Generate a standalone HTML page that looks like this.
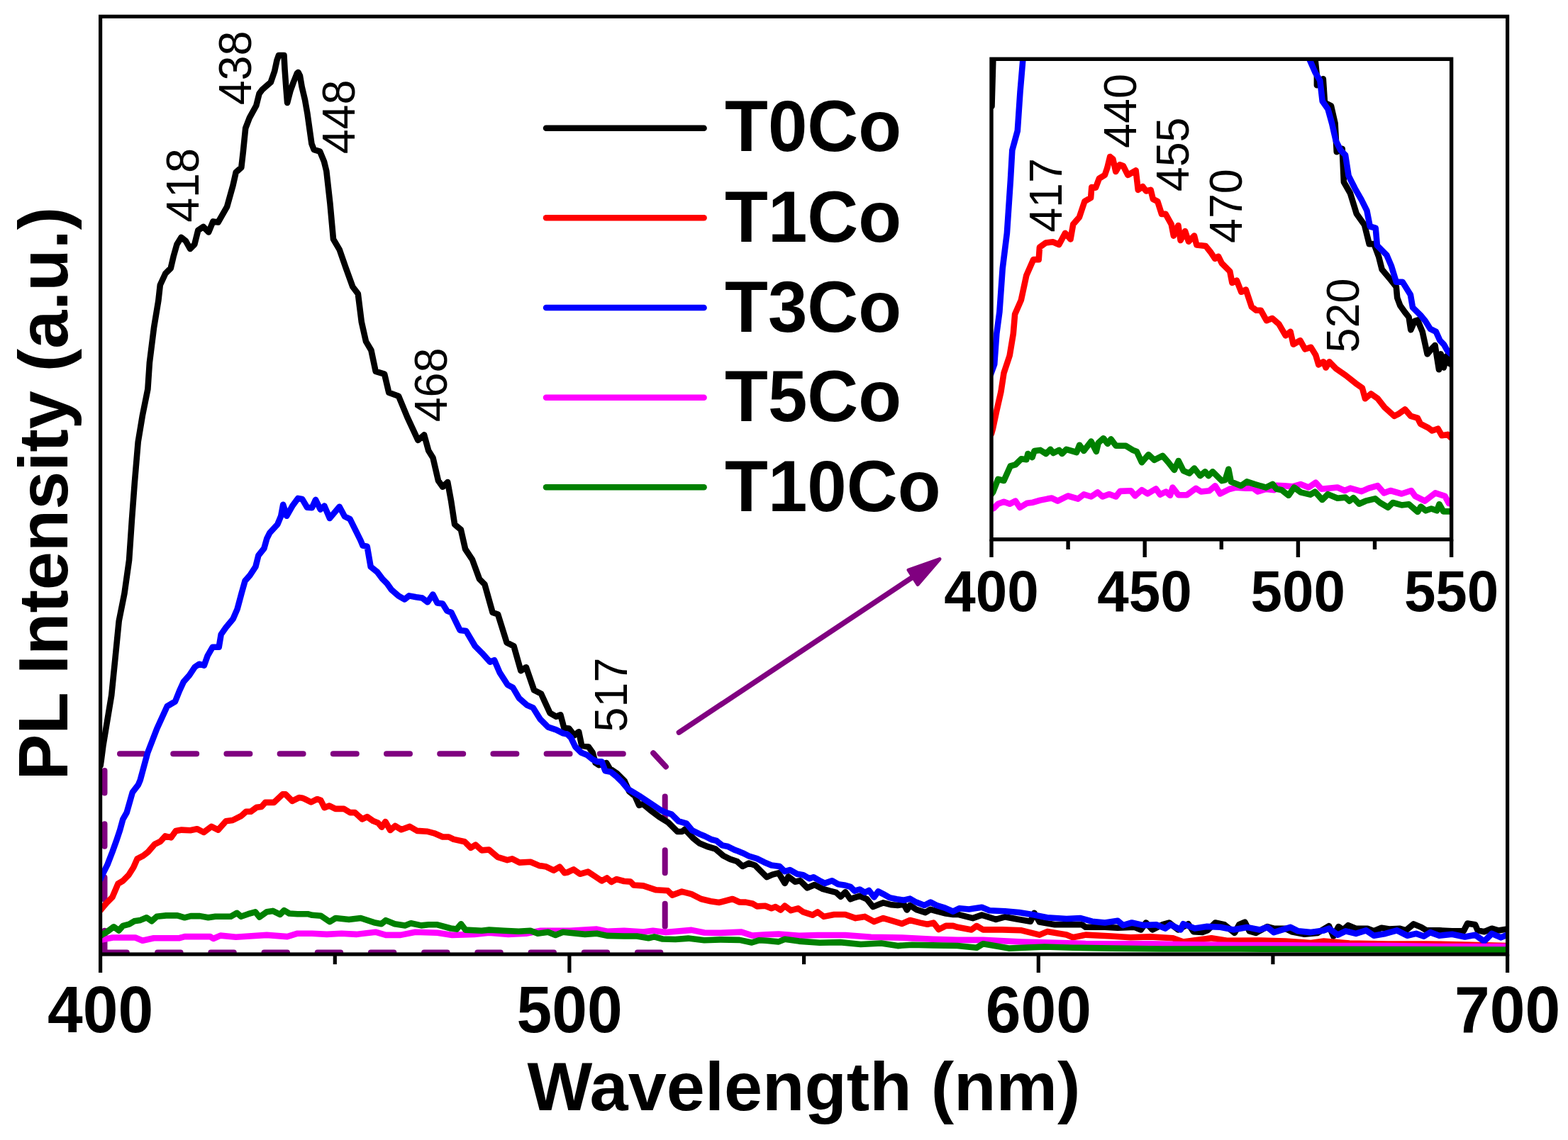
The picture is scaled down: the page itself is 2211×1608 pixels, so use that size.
<!DOCTYPE html>
<html><head><meta charset="utf-8"><title>PL spectra</title>
<style>
html,body{margin:0;padding:0;background:#fff;}
body{width:2211px;height:1608px;overflow:hidden;}
svg{display:block;}
.b{font-family:"Liberation Sans",Arial,sans-serif;font-weight:bold;fill:#000;}
.r{font-family:"Liberation Sans",Arial,sans-serif;font-weight:normal;fill:#000;}
</style></head><body>
<svg width="2211" height="1608" viewBox="0 0 2211 1608">
<rect width="100%" height="100%" fill="#fff"/>
<g stroke="#800080" stroke-width="8" stroke-linecap="round" stroke-linejoin="round" fill="none">
<line x1="169" y1="1063.2" x2="916" y2="1063.2" stroke-dasharray="33 42.2"/>
<line x1="921.2" y1="1062.3" x2="938.9" y2="1081.4"/>
<line x1="937.7" y1="1123.6" x2="937.7" y2="1310" stroke-dasharray="32 43.6"/>
<polyline points="147.5,1312.8 147.5,1343.5 178.8,1343.5"/>
<line x1="222.1" y1="1343.5" x2="935" y2="1343.5" stroke-dasharray="32.5 42.7"/>
<line x1="147.5" y1="1086.9" x2="147.5" y2="1290" stroke-dasharray="31.5 43.8"/>
</g>
<line x1="957.4" y1="1033.1" x2="1290" y2="812" stroke="#800080" stroke-width="7.5" stroke-linecap="round"/>
<polygon points="1325,788.5 1281,804 1294,824.5" fill="#800080" stroke="#800080" stroke-width="5" stroke-linejoin="round"/>
<clipPath id="pc"><rect x="141.6" y="23.3" width="1984.0" height="1322.7"/></clipPath>
<g fill="none" stroke-width="8.6" stroke-linejoin="round" stroke-linecap="round" clip-path="url(#pc)">
<polyline stroke="#000000" points="141.6,1080.0 142.8,1072.0 145.5,1051.2 150.7,1019.9 157.2,980.7 162.5,928.4 167.7,876.0 175.5,836.9 182.1,789.8 186.0,732.3 189.9,680.0 194.7,623.4 200.9,586.0 208.4,548.8 210.9,511.4 217.1,461.7 223.3,424.4 225.8,402.0 233.3,385.8 240.7,378.4 244.5,362.2 249.4,344.8 255.6,334.8 261.9,339.8 268.1,351.0 274.3,344.8 279.3,324.9 286.7,319.9 294.2,327.4 300.4,312.4 307.6,313.5 320.1,291.7 328.5,261.5 332.7,243.0 340.3,236.3 342.8,214.5 346.2,180.9 352.0,165.8 361.3,149.0 365.5,132.2 370.0,126.2 376.0,121.0 381.8,116.0 387.2,100.4 390.5,84.9 393.0,78.0 400.5,78.0 401.5,97.3 403.5,125.0 405.1,145.0 409.5,128.0 413.8,116.0 418.8,103.5 420.5,102.0 423.0,107.0 425.6,122.2 430.0,140.8 433.4,160.0 439.4,202.7 442.7,211.1 451.1,213.6 457.0,227.9 460.3,241.3 465.4,286.7 470.0,337.3 478.7,352.2 487.4,377.1 497.3,404.5 504.8,414.4 509.8,454.2 516.0,481.6 523.4,494.0 529.7,523.9 542.1,527.6 548.3,553.7 562.0,558.7 574.4,588.6 589.4,620.9 598.1,613.4 604.3,635.8 610.5,645.8 618.0,678.1 624.2,686.8 631.2,680.0 636.2,707.3 641.1,739.7 649.9,747.1 656.1,774.5 666.0,789.4 676.0,816.8 683.4,824.2 694.6,864.0 702.1,866.5 714.5,906.3 724.5,911.3 734.4,946.1 741.9,941.2 753.1,973.5 763.0,978.5 775.5,1005.8 784.2,1010.8 790.4,1008.3 795.4,1027.0 802.4,1027.5 809.7,1037.2 816.2,1032.3 820.2,1051.7 829.9,1053.4 835.6,1061.4 839.6,1076.0 844.5,1079.2 855.0,1076.0 859.8,1084.1 869.5,1090.5 880.8,1101.9 887.3,1116.4 895.4,1122.9 901.1,1135.8 906.7,1134.2 916.4,1142.3 929.3,1152.0 942.3,1160.1 948.7,1166.5 955.2,1173.0 961.7,1173.0 965.7,1169.8 977.9,1182.7 985.9,1189.2 997.3,1194.0 1008.6,1197.3 1019.9,1207.0 1029.6,1211.8 1039.3,1215.0 1047.2,1222.0 1055.9,1217.6 1064.6,1220.5 1073.3,1229.2 1081.3,1237.2 1089.2,1233.6 1097.9,1231.4 1106.6,1245.9 1111.6,1236.4 1121.0,1243.7 1128.3,1242.2 1138.4,1252.4 1148.6,1248.0 1160.1,1253.8 1170.3,1256.7 1179.0,1258.9 1185.5,1264.7 1192.0,1258.2 1199.2,1268.3 1205.0,1266.1 1212.2,1263.9 1222.4,1268.3 1231.0,1279.1 1239.7,1275.5 1245.5,1273.4 1257.1,1276.3 1265.8,1277.0 1274.5,1275.5 1278.8,1283.5 1283.2,1277.0 1291.8,1282.8 1304.9,1287.1 1312.1,1282.8 1322.2,1285.7 1333.8,1288.6 1344.0,1290.0 1350.0,1289.7 1371.7,1295.1 1384.4,1290.6 1404.3,1296.9 1416.9,1293.3 1431.4,1296.0 1453.1,1299.7 1458.5,1287.9 1465.8,1300.6 1487.5,1304.2 1503.8,1304.2 1525.5,1304.2 1530.9,1307.8 1558.0,1307.8 1576.1,1308.7 1599.7,1307.8 1608.7,1311.4 1615.9,1301.5 1625.0,1311.4 1639.5,1304.2 1648.5,1301.5 1661.2,1311.4 1675.6,1303.3 1682.9,1314.1 1695.5,1315.0 1702.8,1312.3 1713.6,1301.5 1726.3,1304.2 1740.8,1315.9 1747.2,1304.3 1755.4,1300.7 1761.7,1313.3 1770.8,1316.0 1787.0,1307.0 1796.1,1309.7 1812.4,1309.7 1821.4,1314.2 1839.5,1317.8 1857.6,1316.0 1873.9,1306.1 1880.2,1320.6 1887.4,1307.0 1893.8,1311.5 1901.0,1305.2 1911.9,1309.7 1928.2,1309.7 1937.2,1313.3 1948.0,1308.8 1958.9,1310.6 1973.4,1309.7 1982.4,1312.4 1993.3,1303.4 2004.1,1307.9 2011.4,1312.4 2029.5,1312.4 2047.6,1313.3 2063.8,1313.3 2069.3,1302.5 2080.1,1304.3 2083.7,1312.4 2092.8,1314.2 2103.6,1309.7 2112.7,1312.4 2125.0,1310.6"/>
<polyline stroke="#ff0000" points="141.6,1284.0 143.4,1281.8 150.2,1273.7 158.4,1265.5 166.5,1246.5 173.3,1242.5 181.4,1234.3 188.2,1223.5 193.6,1211.3 201.8,1207.2 208.6,1201.8 218.1,1190.9 226.2,1186.8 233.0,1179.4 241.1,1181.4 247.9,1171.9 256.0,1170.6 268.3,1171.2 277.8,1169.2 287.3,1174.0 298.1,1165.8 307.6,1170.6 318.5,1158.3 328.0,1157.0 340.2,1150.9 347.0,1144.8 353.7,1144.8 361.9,1138.7 368.7,1138.0 374.1,1131.9 386.3,1131.9 398.5,1120.4 402.6,1120.4 412.1,1129.9 421.6,1125.1 427.0,1125.8 430.0,1127.2 438.6,1131.5 447.2,1127.2 452.3,1128.9 457.5,1139.2 464.4,1136.6 473.0,1140.9 485.0,1140.9 493.6,1146.1 500.5,1146.1 510.8,1155.5 517.7,1152.1 526.3,1158.1 533.1,1160.7 538.3,1166.7 543.4,1159.0 550.3,1171.0 557.2,1165.0 565.8,1170.2 577.8,1165.9 588.1,1171.9 601.9,1172.7 612.2,1175.3 624.2,1180.5 632.8,1180.5 639.7,1183.9 655.2,1187.3 663.8,1195.9 670.6,1191.6 679.2,1199.4 689.5,1198.5 701.6,1208.8 715.3,1213.1 722.2,1211.4 732.5,1216.6 748.0,1215.7 760.0,1220.9 770.3,1222.6 780.6,1227.7 789.2,1222.6 796.1,1231.2 800.0,1230.5 808.9,1226.4 817.8,1232.8 829.1,1229.6 838.8,1236.0 848.5,1242.5 855.8,1238.5 862.2,1244.1 869.5,1240.1 880.0,1243.0 889.0,1243.6 893.6,1248.5 907.1,1249.4 925.2,1255.3 941.5,1256.2 947.8,1262.6 961.4,1257.6 975.0,1261.2 988.5,1268.0 1002.1,1271.2 1013.9,1273.0 1032.9,1268.0 1042.8,1272.5 1051.6,1272.6 1061.7,1274.8 1067.5,1278.4 1079.1,1277.7 1087.8,1281.3 1093.6,1279.1 1100.8,1283.5 1106.6,1277.7 1115.3,1284.2 1125.4,1281.3 1132.6,1286.4 1145.7,1290.7 1152.9,1286.4 1161.6,1292.9 1176.1,1290.0 1192.0,1290.0 1206.4,1295.1 1219.5,1292.9 1232.5,1300.1 1245.5,1295.1 1260.0,1299.4 1271.6,1303.0 1283.2,1298.0 1297.6,1301.6 1307.8,1303.7 1316.4,1301.6 1323.7,1311.0 1333.8,1305.9 1344.0,1305.9 1350.0,1307.8 1369.9,1311.4 1377.1,1306.0 1386.2,1311.4 1413.3,1311.4 1440.5,1312.3 1465.8,1318.6 1476.6,1314.1 1503.8,1318.6 1512.8,1322.3 1530.9,1318.6 1567.1,1320.5 1594.2,1322.3 1621.4,1321.4 1653.9,1323.2 1668.4,1328.6 1708.2,1323.2 1729.9,1326.8 1776.2,1326.5 1812.4,1327.5 1848.5,1330.0 1866.6,1327.5 1902.8,1330.5 1957.1,1331.5 2011.4,1331.5 2065.6,1332.5 2125.0,1334.0"/>
<polyline stroke="#0000ff" points="141.6,1240.0 143.4,1235.7 151.6,1219.4 158.4,1201.8 163.8,1186.8 169.2,1170.6 173.3,1155.6 178.7,1146.1 184.1,1127.1 186.8,1117.6 195.0,1106.8 197.7,1100.4 208.2,1061.7 221.3,1027.7 235.7,996.3 247.0,989.5 253.0,974.5 258.9,961.6 266.9,952.6 274.9,940.7 280.8,936.7 287.8,938.7 292.8,924.8 299.7,912.8 308.7,912.8 311.7,894.9 318.6,885.0 328.6,873.0 334.6,859.1 340.5,837.2 345.5,819.3 352.5,811.3 360.4,799.4 364.4,783.5 372.4,773.5 376.3,759.6 380.3,751.6 391.3,739.7 396.2,727.8 399.2,711.8 404.2,727.8 412.2,713.8 420.1,702.9 426.1,703.9 433.1,715.8 440.0,716.1 445.0,704.9 451.8,718.6 457.4,713.6 464.9,731.0 478.6,714.8 486.0,728.5 493.5,732.2 502.2,749.7 508.4,762.1 511.5,769.6 517.7,770.8 522.7,799.4 532.0,806.9 539.5,816.8 545.7,823.0 551.9,831.7 561.9,840.4 570.6,845.4 576.8,840.4 586.8,842.3 595.5,843.6 602.9,849.2 610.4,838.6 616.6,850.4 624.1,851.6 630.3,861.6 636.5,864.1 648.6,888.9 657.3,890.1 669.8,911.3 679.7,921.2 690.9,933.7 697.1,931.2 704.6,948.6 715.8,966.0 723.2,969.8 731.9,984.7 743.1,994.6 751.8,998.4 761.8,1014.5 773.0,1025.7 784.2,1029.4 794.1,1034.4 800.0,1035.6 804.9,1040.4 811.3,1053.4 819.4,1061.4 827.5,1064.7 835.6,1071.1 842.0,1074.4 848.5,1074.4 853.4,1087.3 861.4,1088.9 869.5,1095.4 877.6,1103.5 885.7,1113.2 893.8,1118.0 901.9,1122.9 911.6,1129.3 921.3,1135.8 931.0,1142.3 937.4,1145.5 947.1,1148.7 956.8,1158.4 968.1,1161.7 976.2,1171.4 985.9,1176.2 994.0,1179.5 1003.7,1184.3 1010.2,1185.9 1018.3,1192.4 1026.4,1194.0 1036.0,1198.9 1040.0,1200.3 1047.2,1203.2 1055.9,1207.5 1067.5,1211.1 1077.6,1216.2 1087.8,1220.5 1099.3,1222.0 1106.6,1229.2 1113.8,1227.0 1124.0,1232.8 1132.6,1234.3 1141.3,1239.3 1147.1,1237.2 1155.8,1242.2 1163.0,1245.9 1173.2,1242.2 1181.8,1247.3 1192.0,1248.8 1199.2,1250.9 1205.0,1256.7 1212.2,1254.5 1219.5,1258.9 1225.3,1256.0 1232.5,1265.4 1238.3,1257.4 1245.5,1261.1 1254.2,1266.1 1264.3,1268.3 1274.5,1269.7 1283.2,1267.6 1291.8,1272.6 1303.4,1277.0 1312.1,1272.6 1320.8,1277.0 1332.4,1280.6 1344.0,1285.7 1352.6,1281.3 1366.3,1282.5 1384.4,1279.8 1395.2,1284.3 1416.9,1285.2 1436.8,1287.0 1458.5,1290.6 1476.6,1294.2 1503.8,1296.0 1523.7,1295.1 1540.0,1299.7 1558.0,1301.5 1576.1,1298.7 1583.4,1305.1 1596.0,1301.5 1612.3,1305.1 1630.4,1304.2 1643.1,1309.6 1650.3,1304.2 1664.8,1311.4 1668.4,1303.3 1684.7,1309.6 1701.0,1306.9 1720.9,1307.8 1738.9,1311.4 1758.1,1307.9 1776.2,1311.5 1787.0,1307.9 1796.1,1315.1 1819.6,1307.9 1830.5,1313.3 1848.5,1315.1 1866.6,1312.4 1873.9,1309.7 1886.5,1318.7 1897.4,1313.3 1911.9,1316.9 1926.3,1312.4 1937.2,1319.7 1953.5,1316.9 1969.8,1312.4 1984.2,1319.7 1996.9,1316.9 2007.8,1320.6 2016.8,1315.1 2029.5,1319.7 2047.6,1317.8 2065.6,1321.5 2080.1,1318.7 2092.8,1327.8 2103.6,1316.9 2116.3,1322.4 2125.0,1318.7"/>
<polyline stroke="#ff00ff" points="141.6,1326.0 144.5,1325.4 158.9,1322.5 190.8,1322.5 200.9,1326.8 216.8,1323.2 253.0,1323.2 260.3,1321.1 296.4,1321.1 300.8,1324.0 310.9,1319.6 332.6,1321.8 376.1,1318.9 405.0,1321.1 419.5,1316.7 440.0,1316.8 460.8,1317.9 481.6,1316.8 502.4,1317.9 529.5,1314.7 544.0,1318.9 564.8,1318.9 585.6,1314.7 616.8,1315.8 637.6,1318.9 668.9,1317.9 689.7,1315.8 716.7,1317.9 741.7,1316.8 762.5,1312.7 804.1,1312.7 841.5,1310.6 856.1,1313.7 880.0,1312.8 907.1,1314.6 920.7,1312.8 938.8,1315.0 975.0,1311.9 993.1,1315.5 1015.7,1315.9 1045.5,1314.6 1060.9,1319.6 1080.0,1318.2 1097.9,1317.5 1126.8,1319.7 1152.9,1319.0 1192.0,1319.0 1228.2,1321.8 1271.6,1322.6 1315.0,1324.7 1350.0,1325.9 1386.2,1325.9 1440.5,1328.5 1530.9,1331.0 1621.4,1331.3 1675.6,1332.2 1750.0,1333.1 1812.4,1333.2 1884.7,1334.1 1957.1,1334.1 2029.5,1335.0 2125.0,1335.0"/>
<polyline stroke="#008000" points="141.6,1320.0 144.5,1318.2 151.7,1313.8 160.4,1307.3 167.6,1312.4 173.4,1305.9 182.1,1303.7 189.3,1299.3 198.0,1297.9 206.7,1294.3 213.9,1299.3 221.2,1292.8 234.2,1291.4 250.1,1291.4 260.3,1294.3 268.9,1292.1 282.0,1292.1 293.6,1294.3 303.7,1292.8 325.4,1292.8 334.1,1287.8 339.9,1292.8 350.0,1289.2 360.1,1286.3 365.9,1293.6 376.1,1286.3 384.7,1284.9 394.9,1289.9 400.7,1284.1 407.9,1288.5 419.5,1289.2 434.0,1289.2 440.0,1290.8 452.5,1291.8 465.0,1300.2 473.3,1295.0 492.0,1297.0 508.7,1295.0 527.4,1301.2 537.8,1303.3 544.0,1298.1 556.5,1303.3 571.1,1305.4 579.4,1302.2 594.0,1305.4 604.4,1304.3 616.8,1304.3 635.6,1309.5 643.9,1310.6 650.1,1303.3 656.4,1311.6 679.3,1312.7 689.7,1311.6 710.5,1312.7 731.3,1313.7 747.9,1312.7 758.3,1316.8 772.9,1314.7 783.3,1318.9 793.7,1314.7 824.9,1317.9 841.5,1316.8 856.1,1319.9 880.0,1320.5 898.1,1320.5 914.4,1323.2 922.5,1321.4 934.3,1324.5 952.4,1325.0 970.5,1323.6 993.1,1326.3 1015.7,1325.4 1042.8,1325.9 1060.0,1329.5 1070.0,1326.3 1080.0,1326.8 1097.9,1328.4 1106.6,1324.7 1126.8,1327.6 1155.8,1329.8 1184.7,1329.1 1213.7,1332.0 1242.6,1330.5 1265.8,1334.1 1286.1,1332.7 1315.0,1333.4 1350.0,1334.0 1377.1,1336.7 1386.2,1331.3 1422.4,1337.6 1473.0,1335.5 1512.8,1336.7 1567.1,1337.6 1639.5,1338.5 1750.0,1338.5 2125.0,1339.6"/>
</g>
<g stroke="#000" stroke-width="5.2" fill="none">
<rect x="141.6" y="23.3" width="1984.0" height="1322.7"/>
<line x1="141.6" y1="1346.0" x2="141.6" y2="1372.0"/>
<line x1="802.9" y1="1346.0" x2="802.9" y2="1372.0"/>
<line x1="1464.3" y1="1346.0" x2="1464.3" y2="1372.0"/>
<line x1="2125.6" y1="1346.0" x2="2125.6" y2="1372.0"/>
<line x1="472.3" y1="1346.0" x2="472.3" y2="1360.2"/>
<line x1="1133.6" y1="1346.0" x2="1133.6" y2="1360.2"/>
<line x1="1794.9" y1="1346.0" x2="1794.9" y2="1360.2"/>
</g>
<svg x="1398.0" y="83.3" width="648.6" height="677.5" viewBox="1398.0 83.3 648.6 677.5" overflow="hidden">
<g fill="none" stroke-width="8.6" stroke-linejoin="round" stroke-linecap="round">
<polyline stroke="#000000" points="1398.5,150.0 1401.0,60.0 1854.0,60.0 1854.6,84.5 1856.9,106.9 1856.9,120.3 1865.8,111.3 1868.0,144.9 1877.0,149.4 1882.6,174.0 1884.8,214.3 1892.7,209.8 1894.9,256.8 1903.9,272.5 1912.8,301.6 1924.0,317.2 1930.7,344.1 1937.4,344.1 1944.1,362.0 1948.6,379.9 1959.8,393.3 1968.8,404.5 1970.2,420.0 1974.3,430.9 1981.1,440.5 1986.6,447.4 1989.3,465.2 1994.8,452.8 1998.9,451.5 2005.7,467.9 2012.6,499.4 2019.4,491.2 2023.5,487.0 2029.0,521.3 2031.7,499.4 2035.8,518.5 2039.9,502.1 2044.0,513.0 2050.0,516.0"/>
<polyline stroke="#ff0000" points="1398.0,612.0 1400.1,604.1 1405.3,579.5 1411.4,552.8 1415.5,526.2 1423.7,501.5 1428.8,470.8 1431.1,443.3 1439.8,423.4 1447.3,388.5 1457.2,366.1 1464.7,366.1 1465.9,348.7 1474.6,342.5 1484.6,341.3 1493.3,345.0 1502.0,328.8 1509.5,337.5 1513.2,316.4 1521.9,306.4 1529.4,284.0 1538.1,279.1 1539.3,264.1 1545.0,264.7 1549.9,251.7 1557.9,246.9 1561.2,237.2 1565.2,221.0 1569.3,224.3 1573.3,242.0 1579.0,232.3 1583.8,234.0 1590.3,246.9 1601.6,240.4 1604.8,267.9 1611.3,263.1 1616.1,269.5 1622.6,267.9 1625.8,280.8 1632.3,284.1 1638.0,301.9 1643.6,301.9 1651.7,316.4 1654.9,332.6 1661.4,318.0 1664.6,339.0 1671.1,326.1 1676.0,340.7 1684.0,332.6 1687.3,345.5 1700.2,347.1 1706.7,355.2 1713.2,364.9 1718.0,361.7 1722.8,371.4 1734.2,382.7 1737.4,398.9 1743.9,395.6 1750.3,411.8 1756.8,408.6 1764.9,432.8 1771.4,437.7 1777.8,437.7 1785.9,452.2 1794.0,449.0 1803.2,456.9 1812.8,473.4 1819.6,467.9 1823.7,485.7 1833.3,480.2 1840.2,492.5 1848.4,489.8 1855.2,500.7 1859.3,514.4 1866.2,510.3 1869.6,518.5 1874.4,510.3 1883.9,519.9 1897.6,529.5 1911.3,540.4 1920.9,547.3 1925.0,562.3 1933.2,555.5 1942.8,562.3 1952.4,574.6 1966.0,586.9 1971.5,584.2 1981.1,577.4 1989.3,586.9 1998.9,589.7 2003.0,597.9 2013.9,603.4 2019.4,607.5 2027.6,604.7 2033.1,614.3 2041.3,612.9 2045.4,617.0 2050.0,619.0"/>
<polyline stroke="#0000ff" points="1397.0,528.0 1402.2,513.8 1405.3,470.8 1409.4,440.0 1413.7,378.6 1419.9,328.8 1424.9,254.2 1427.3,211.9 1434.8,184.5 1438.5,129.8 1442.3,85.0 1444.0,60.0 1845.0,60.0 1846.8,84.5 1854.6,102.4 1861.3,113.6 1864.7,142.7 1872.5,153.9 1878.1,174.0 1883.7,198.6 1890.4,212.0 1897.1,218.8 1901.6,247.9 1910.6,265.8 1919.5,281.4 1927.4,297.1 1931.8,319.5 1939.7,321.7 1941.9,346.3 1955.3,359.8 1962.0,375.4 1968.8,397.8 1977.7,397.8 1988.9,415.7 1992.0,433.7 2003.0,444.6 2009.8,452.8 2016.7,463.8 2024.9,467.9 2030.4,480.2 2035.8,485.7 2041.3,495.3 2050.0,503.0"/>
<polyline stroke="#ff00ff" points="1398.0,718.0 1401.2,716.9 1407.3,710.8 1415.5,707.7 1423.7,710.8 1431.9,706.7 1438.1,715.9 1448.3,709.7 1456.5,708.7 1466.8,705.6 1477.1,703.6 1483.2,702.6 1491.4,706.7 1505.8,699.5 1520.1,703.6 1528.3,697.4 1538.6,700.5 1547.8,694.4 1554.7,700.5 1564.1,697.0 1573.5,700.5 1579.4,692.9 1594.7,692.3 1600.6,699.4 1610.0,691.1 1618.2,696.4 1630.0,689.4 1635.8,697.6 1644.1,693.5 1650.0,698.8 1653.5,687.6 1661.7,698.2 1673.5,698.2 1686.4,688.8 1693.5,693.5 1705.2,692.3 1713.5,685.2 1720.5,696.4 1733.4,690.0 1742.9,687.6 1757.0,688.8 1767.5,688.8 1773.4,693.5 1785.2,690.0 1796.9,691.1 1800.0,684.7 1811.3,685.2 1822.6,686.4 1833.9,683.0 1845.2,687.5 1855.4,680.7 1863.3,689.8 1885.9,687.5 1896.1,692.0 1904.0,688.6 1919.9,693.1 1930.0,688.6 1942.5,685.2 1951.5,695.4 1960.6,692.0 1976.4,696.5 1990.0,692.0 1995.6,699.9 2009.2,706.7 2023.9,695.4 2037.5,699.9 2043.1,710.1 2050.0,711.0"/>
<polyline stroke="#008000" points="1398.0,697.0 1400.1,694.4 1407.3,675.9 1415.5,678.0 1424.7,657.4 1431.9,655.4 1440.1,647.2 1447.3,648.2 1449.4,640.0 1455.5,645.1 1458.6,635.9 1466.8,634.9 1475.0,640.0 1481.2,633.8 1485.3,639.0 1493.5,634.9 1497.6,640.0 1503.7,633.8 1518.1,638.0 1522.2,627.7 1528.3,635.9 1538.6,622.6 1545.8,636.9 1548.8,624.6 1555.9,618.2 1561.8,625.9 1566.5,619.4 1573.5,628.8 1587.6,628.8 1597.0,634.7 1602.9,637.0 1610.0,652.3 1619.4,641.2 1627.6,648.8 1639.4,642.9 1647.6,652.3 1655.8,662.9 1661.7,650.0 1668.8,664.1 1677.0,667.6 1684.1,660.6 1692.3,671.1 1699.3,665.3 1704.0,671.1 1709.9,665.3 1722.9,678.2 1727.6,677.0 1732.3,661.7 1735.8,679.4 1749.9,685.2 1758.1,679.4 1768.7,682.9 1785.2,687.6 1794.6,682.9 1800.0,689.8 1806.8,690.9 1817.0,698.8 1824.9,687.5 1833.9,694.3 1847.5,697.7 1854.3,693.7 1864.5,705.0 1872.4,697.1 1885.9,702.8 1897.2,701.6 1902.9,706.7 1908.5,702.2 1916.5,710.7 1925.5,706.7 1939.1,703.3 1945.9,709.0 1957.2,715.8 1964.0,709.0 1976.4,712.4 1986.6,711.2 1999.0,722.0 2003.5,714.6 2010.3,720.3 2018.2,717.5 2026.1,720.3 2029.5,711.2 2035.2,721.4 2043.1,721.4 2050.0,722.0"/>
</g></svg>
<g stroke="#000" stroke-width="5.4" fill="none">
<rect x="1398.0" y="83.3" width="648.6" height="677.5"/>
<line x1="1398.0" y1="760.8" x2="1398.0" y2="786.0"/>
<line x1="1614.2" y1="760.8" x2="1614.2" y2="786.0"/>
<line x1="1830.4" y1="760.8" x2="1830.4" y2="786.0"/>
<line x1="2046.6" y1="760.8" x2="2046.6" y2="786.0"/>
<line x1="1506.1" y1="760.8" x2="1506.1" y2="775.0"/>
<line x1="1722.3" y1="760.8" x2="1722.3" y2="775.0"/>
<line x1="1938.5" y1="760.8" x2="1938.5" y2="775.0"/>
</g>
<line x1="770" y1="180.70" x2="992.6" y2="180.70" stroke="#000000" stroke-width="8.5" stroke-linecap="round"/>
<line x1="770" y1="307.35" x2="992.6" y2="307.35" stroke="#ff0000" stroke-width="8.5" stroke-linecap="round"/>
<line x1="770" y1="434.00" x2="992.6" y2="434.00" stroke="#0000ff" stroke-width="8.5" stroke-linecap="round"/>
<line x1="770" y1="560.65" x2="992.6" y2="560.65" stroke="#ff00ff" stroke-width="8.5" stroke-linecap="round"/>
<line x1="770" y1="687.30" x2="992.6" y2="687.30" stroke="#008000" stroke-width="8.5" stroke-linecap="round"/>
<text transform="translate(141.60,1455.50) scale(0.9552,1)" class="b" font-size="93.59" text-anchor="middle">400</text>
<text transform="translate(803.03,1455.50) scale(0.9552,1)" class="b" font-size="93.59" text-anchor="middle">500</text>
<text transform="translate(1464.27,1455.50) scale(0.9552,1)" class="b" font-size="93.59" text-anchor="middle">600</text>
<text transform="translate(2125.60,1455.50) scale(0.9552,1)" class="b" font-size="93.59" text-anchor="middle">700</text>
<text transform="translate(1397.90,861.50) scale(0.9732,1)" class="b" font-size="82.17" text-anchor="middle">400</text>
<text transform="translate(1614.00,861.50) scale(0.9732,1)" class="b" font-size="82.17" text-anchor="middle">450</text>
<text transform="translate(1830.30,861.50) scale(0.9732,1)" class="b" font-size="82.17" text-anchor="middle">500</text>
<text transform="translate(2046.60,861.50) scale(0.9732,1)" class="b" font-size="82.17" text-anchor="middle">550</text>
<text transform="translate(1022.10,213.40) scale(0.9807,1)" class="b" font-size="101.56">T0Co</text>
<text transform="translate(1022.10,341.00) scale(0.9807,1)" class="b" font-size="101.56">T1Co</text>
<text transform="translate(1022.10,468.00) scale(0.9807,1)" class="b" font-size="101.56">T3Co</text>
<text transform="translate(1022.10,594.40) scale(0.9807,1)" class="b" font-size="101.56">T5Co</text>
<text transform="translate(1022.10,720.60) scale(0.9807,1)" class="b" font-size="101.56">T10Co</text>
<text transform="translate(1133.40,1566.00) scale(1.0023,1)" class="b" font-size="97.06" text-anchor="middle">Wavelength (nm)</text>
<text transform="translate(95.30,696.20) rotate(-90) scale(0.9943,1)" class="b" font-size="97.82" text-anchor="middle">PL Intensity (a.u.)</text>
<text transform="translate(279.70,313.80) rotate(-90) scale(0.9707,1)" class="r" font-size="64.65">418</text>
<text transform="translate(353.90,148.30) rotate(-90) scale(0.9707,1)" class="r" font-size="64.65">438</text>
<text transform="translate(499.90,217.30) rotate(-90) scale(0.9707,1)" class="r" font-size="64.65">448</text>
<text transform="translate(630.40,595.30) rotate(-90) scale(0.9707,1)" class="r" font-size="64.65">468</text>
<text transform="translate(884.10,1032.40) rotate(-90) scale(0.9707,1)" class="r" font-size="64.65">517</text>
<text transform="translate(1496.80,327.80) rotate(-90) scale(0.9707,1)" class="r" font-size="64.65">417</text>
<text transform="translate(1602.10,208.90) rotate(-90) scale(0.9707,1)" class="r" font-size="64.65">440</text>
<text transform="translate(1676.40,270.20) rotate(-90) scale(0.9707,1)" class="r" font-size="64.65">455</text>
<text transform="translate(1750.90,343.00) rotate(-90) scale(0.9707,1)" class="r" font-size="64.65">470</text>
<text transform="translate(1916.10,497.40) rotate(-90) scale(0.9707,1)" class="r" font-size="64.65">520</text>
</svg>
</body></html>
